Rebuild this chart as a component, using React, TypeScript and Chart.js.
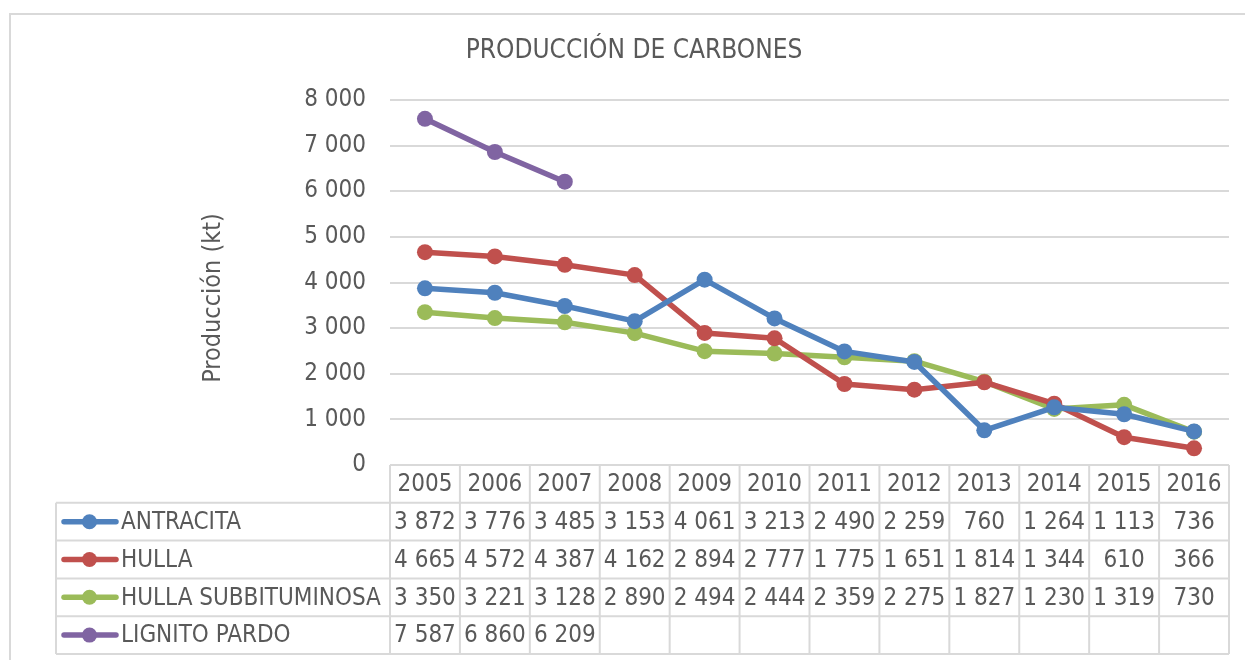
import React, { useEffect, useRef } from "react";
import { Chart, registerables } from "chart.js";

Chart.register(...registerables);

const title = "PRODUCCIÓN DE CARBONES";
const yTitle = "Producción (kt)";
const years = ["2005", "2006", "2007", "2008", "2009", "2010", "2011", "2012", "2013", "2014", "2015", "2016"];
const antracita = [3872, 3776, 3485, 3153, 4061, 3213, 2490, 2259, 760, 1264, 1113, 736];
const hulla = [4665, 4572, 4387, 4162, 2894, 2777, 1775, 1651, 1814, 1344, 610, 366];
const hullaSub = [3350, 3221, 3128, 2890, 2494, 2444, 2359, 2275, 1827, 1230, 1319, 730];
const lignito: (number | null)[] = [7587, 6860, 6209, null, null, null, null, null, null, null, null, null];
const seriesNames = ["ANTRACITA", "HULLA", "HULLA SUBBITUMINOSA", "LIGNITO PARDO"];
const seriesColors = ["#4F81BD", "#C0504D", "#9BBB59", "#8064A2"];

const FONT = '"DejaVu Sans Condensed", "DejaVu Sans", sans-serif';
const TEXT = "#595959";
const GRID = "#d9d9d9";

const fmt = (v: number) => {
  const s = Math.round(v).toString();
  return s.replace(/\B(?=(\d{3})+(?!\d))/g, " ");
};

const tablePlugin = {
  id: "dataTable",
  beforeDraw(chart: any) {
    const ctx = chart.ctx;
    ctx.save();
    ctx.fillStyle = "#ffffff";
    ctx.fillRect(0, 0, chart.width, chart.height);
    ctx.strokeStyle = GRID;
    ctx.lineWidth = 2;
    ctx.strokeRect(10, 14, chart.width + 20, chart.height + 20);
    ctx.restore();
  },
  afterDraw(chart: any) {
    const ctx = chart.ctx;
    const xs = chart.scales.x;
    const area = chart.chartArea;
    const n = years.length;
    const step = (area.right - area.left) / n;
    const top = area.bottom;
    const rowH = 37.8;
    const legendLeft = 56;
    const rows = [antracita, hulla, hullaSub, lignito];
    ctx.save();
    ctx.fillStyle = TEXT;
    ctx.font = `26px ${FONT}`;
    ctx.textAlign = "center";
    ctx.textBaseline = "middle";
    ctx.fillText(title, 634, 51);
    ctx.save();
    ctx.font = `25px ${FONT}`;
    ctx.translate(213, 298);
    ctx.rotate(-Math.PI / 2);
    ctx.fillText(yTitle, 0, 0);
    ctx.restore();

    ctx.strokeStyle = GRID;
    ctx.lineWidth = 2;
    ctx.beginPath();
    ctx.moveTo(area.left, top);
    ctx.lineTo(area.right, top);
    for (let r = 1; r <= 5; r++) {
      const y = top + r * rowH;
      ctx.moveTo(legendLeft, y);
      ctx.lineTo(area.right, y);
    }
    for (let i = 0; i <= n; i++) {
      const x = area.left + i * step;
      ctx.moveTo(x, top);
      ctx.lineTo(x, top + 5 * rowH);
    }
    ctx.moveTo(legendLeft, top + rowH);
    ctx.lineTo(legendLeft, top + 5 * rowH);
    ctx.stroke();

    ctx.fillStyle = TEXT;
    ctx.font = `24px ${FONT}`;
    ctx.textAlign = "center";
    ctx.textBaseline = "middle";
    years.forEach((yr, i) => {
      ctx.fillText(yr, xs.getPixelForValue(i), top + rowH / 2 + 1);
    });
    rows.forEach((vals, r) => {
      const cy = top + (r + 1) * rowH + rowH / 2 + 1;
      vals.forEach((v, i) => {
        if (v === null || v === undefined) return;
        ctx.fillText(fmt(v as number), xs.getPixelForValue(i), cy);
      });
      const cyL = top + (r + 1) * rowH + rowH / 2;
      ctx.strokeStyle = seriesColors[r];
      ctx.lineWidth = 5.5;
      ctx.lineCap = "round";
      ctx.beginPath();
      ctx.moveTo(64, cyL);
      ctx.lineTo(116, cyL);
      ctx.stroke();
      ctx.fillStyle = seriesColors[r];
      ctx.beginPath();
      ctx.arc(89.5, cyL, 7.5, 0, Math.PI * 2);
      ctx.fill();
      ctx.fillStyle = TEXT;
      ctx.textAlign = "left";
      ctx.fillText(seriesNames[r], 121, cy);
      ctx.textAlign = "center";
    });
    ctx.restore();
  },
};

export default function App() {
  const ref = useRef<HTMLCanvasElement>(null);
  useEffect(() => {
    if (!ref.current) return;
    const data = [antracita, hulla, hullaSub, lignito];
    const chart = new Chart(ref.current, {
      type: "line",
      data: {
        labels: years,
        datasets: data.map((d, i) => ({
          label: seriesNames[i],
          data: d,
          borderColor: seriesColors[i],
          backgroundColor: seriesColors[i],
          pointBackgroundColor: seriesColors[i],
          pointBorderColor: seriesColors[i],
          pointBorderWidth: 0,
          pointRadius: 8,
          borderWidth: 5.5,
          borderJoinStyle: "round" as const,
          tension: 0,
        })),
      },
      options: {
        responsive: false,
        animation: false,
        devicePixelRatio: 1,
        layout: { padding: { left: 0, top: 100, right: 16, bottom: 195 } },
        plugins: {
          legend: { display: false },
          title: { display: false },
          tooltip: { enabled: false },
        },
        scales: {
          x: {
            display: false,
            offset: true,
          },
          y: {
            min: 0,
            max: 8000,
            afterFit: (s: any) => {
              s.width = 390;
            },
            border: { display: false },
            grid: { color: GRID, lineWidth: 2, drawTicks: false },
            ticks: {
              stepSize: 1000,
              padding: 24,
              color: TEXT,
              font: { family: FONT, size: 24 },
              callback: (v: any) => fmt(Number(v)),
            },
          },
        },
      },
      plugins: [tablePlugin],
    });
    return () => chart.destroy();
  }, []);
  return (
    <div style={{ position: "absolute", left: 0, top: 0, width: 1245, height: 660 }}>
      <canvas ref={ref} width={1245} height={660} />
    </div>
  );
}
